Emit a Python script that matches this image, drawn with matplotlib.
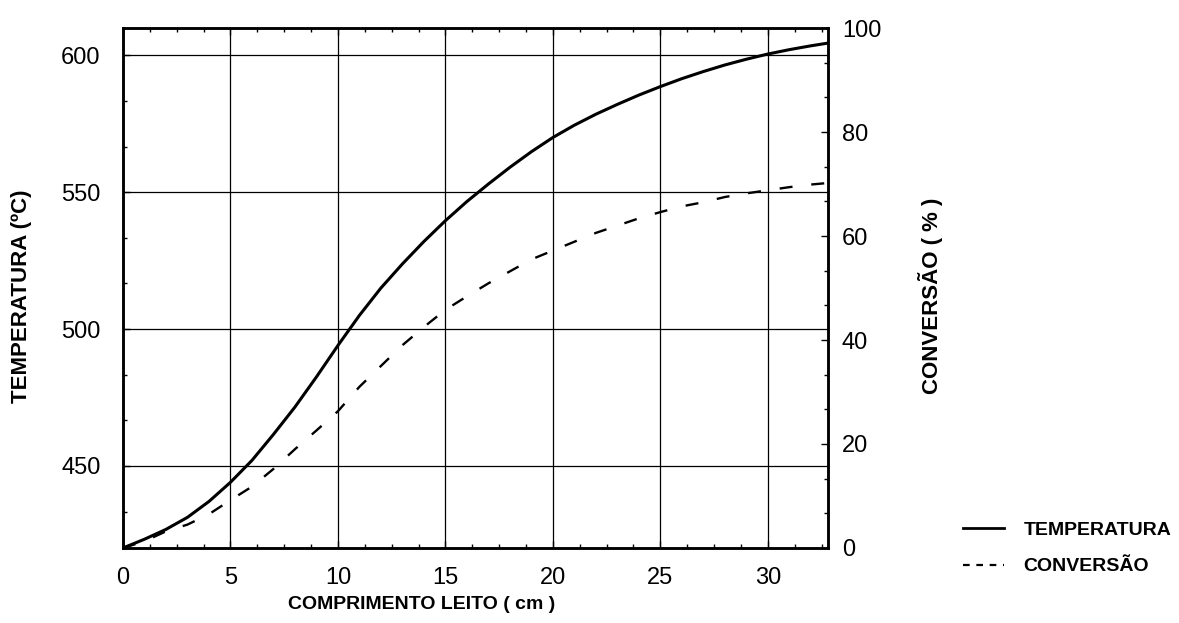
import matplotlib
matplotlib.use("Agg")
import matplotlib.pyplot as plt
from matplotlib.lines import Line2D
from matplotlib.ticker import AutoMinorLocator

plt.rcParams["font.family"] = ["Liberation Sans", "DejaVu Sans"]

# bed length (cm)
comprimento = [0, 1, 2, 3, 4, 5, 6, 7, 8, 9, 10, 11, 12, 13, 14, 15, 16,
               17, 18, 19, 20, 21, 22, 23, 24, 25, 26, 27, 28, 29, 30, 31,
               32, 32.8]
# temperature (ºC), left axis
temperatura = [420, 423.2, 426.8, 431.2, 437, 444, 452, 461.5, 471.5, 482.5,
               494, 505, 515, 523.8, 532, 539.6, 546.6, 553, 559.1, 564.8,
               570, 574.5, 578.5, 582.1, 585.5, 588.6, 591.5, 594.1, 596.5,
               598.6, 600.5, 602.1, 603.5, 604.5]
# conversion (%), right axis
conversao = [0, 1.3, 3.2, 4.5, 6.5, 9.2, 11.8, 15.2, 19, 22.6, 26.3, 31,
             35, 39, 42.5, 45.8, 48.4, 50.9, 53.2, 55.5, 57.2, 58.9, 60.6,
             62, 63.4, 64.6, 65.7, 66.5, 67.5, 68.2, 68.8, 69.4, 69.9, 70.2]

x_ticks = [0, 5, 10, 15, 20, 25, 30]
t_ticks = [450, 500, 550, 600]
c_ticks = [0, 20, 40, 60, 80, 100]

fig = plt.figure(figsize=(11.79, 6.23), dpi=100)
ax = fig.add_axes([0.1043, 0.1204, 0.598, 0.8346])
ax2 = ax.twinx()

ax.plot(comprimento, temperatura, color="black", lw=2.2, solid_capstyle="round")
ax2.plot(comprimento, conversao, color="black", lw=1.7, dashes=(5.5, 8))

ax.set_xlim(0, 32.8)
ax.set_ylim(420, 610)
ax2.set_ylim(0, 100)

ax.set_xticks(x_ticks)
ax.set_yticks(t_ticks)
ax2.set_yticks(c_ticks)
ax.xaxis.set_minor_locator(AutoMinorLocator(4))
ax.yaxis.set_minor_locator(AutoMinorLocator(3))
ax2.yaxis.set_minor_locator(AutoMinorLocator(3))

ax.grid(True, which="major", color="black", lw=0.9)
ax.set_axisbelow(True)

ax.tick_params(axis="both", which="both", direction="in", top=True,
               labelsize=17, width=1.0)
ax.tick_params(axis="x", which="both", pad=14)
ax.tick_params(axis="y", which="both", pad=16)
ax.tick_params(which="major", length=5)
ax.tick_params(which="minor", length=3)
ax2.tick_params(axis="y", which="both", direction="in", labelsize=17,
                width=1.0, pad=10)
ax2.tick_params(which="major", length=5)
ax2.tick_params(which="minor", length=3)

for a in (ax, ax2):
    for s in a.spines.values():
        s.set_linewidth(1.8)

ax.set_xlabel("COMPRIMENTO LEITO ( cm )", fontsize=14, fontweight="bold")
ax.xaxis.set_label_coords(0.424, -0.092)
ax.set_ylabel("TEMPERATURA (ºC)", fontsize=16, fontweight="bold")
ax.yaxis.set_label_coords(-0.129, 0.484)
ax2.set_ylabel("CONVERSÃO ( % )", fontsize=16, fontweight="bold")
ax2.yaxis.set_label_coords(1.128, 0.485)

handles = [Line2D([], [], color="black", lw=2.0),
           Line2D([], [], color="black", lw=1.6, dashes=(3, 3))]
fig.legend(handles, ["TEMPERATURA", "CONVERSÃO"], loc="center left",
           bbox_to_anchor=(0.8168, 0.1196), frameon=False, handlelength=2.1,
           handletextpad=1.0, labelspacing=0.95, borderpad=0,
           borderaxespad=0, prop={"size": 14, "weight": "bold"})

fig.savefig("out.png", dpi=100)
